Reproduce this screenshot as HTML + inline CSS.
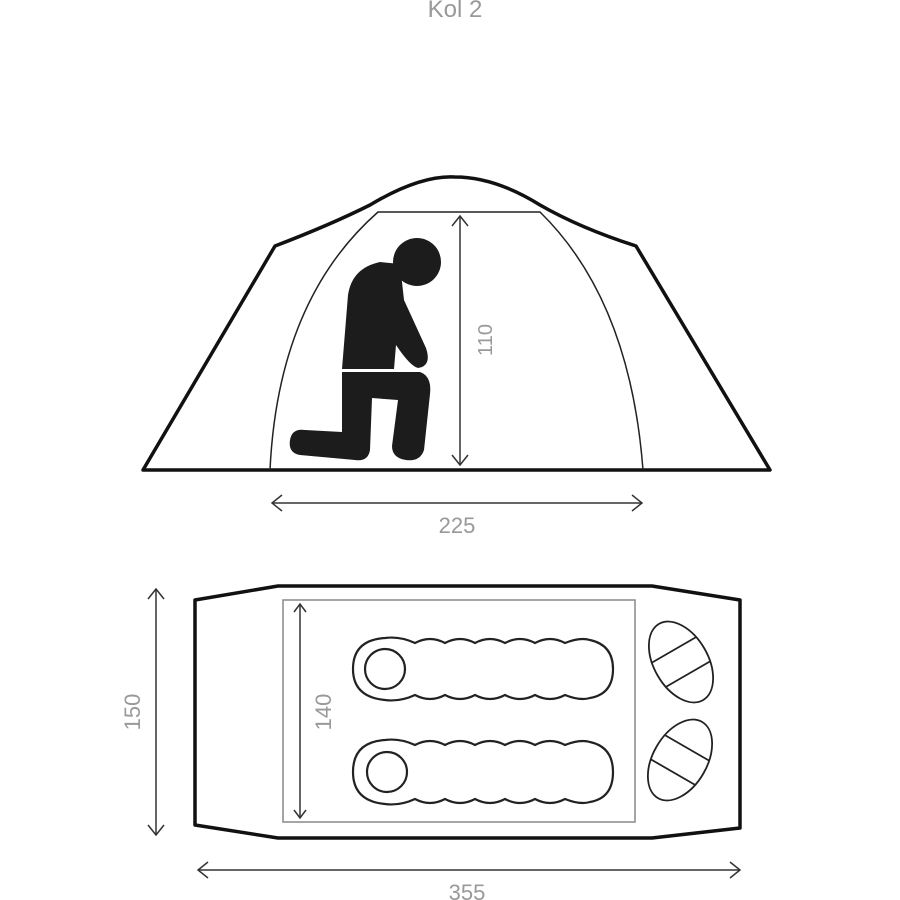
<!DOCTYPE html>
<html><head><meta charset="utf-8"><style>
html,body{margin:0;padding:0;background:#fff;}
svg{display:block;}
text{font-family:"Liberation Sans",sans-serif;fill:#999;}
</style></head><body>
<svg width="900" height="900" viewBox="0 0 900 900" xmlns="http://www.w3.org/2000/svg">
<text x="455" y="17" font-size="24" text-anchor="middle" fill="#aaa">Kol 2</text>
<path d="M143,470 L275,246 Q330,225 370,205 Q420,175 455,177 Q495,177 540,205 Q580,228 636,246 L770,470 Z" fill="none" stroke="#111" stroke-width="3.5" stroke-linejoin="round"/>
<line x1="143" y1="470" x2="770" y2="470" stroke="#111" stroke-width="3"/>
<path d="M270,470 Q278,300 378,212 L540,212 Q630,300 643,470" fill="none" stroke="#222" stroke-width="1.5"/>
<circle cx="417" cy="262" r="24" fill="#1c1c1c"/>
<path d="M342,369 L348,295 Q352,268 380,262 L400,264 L404,300 L426,348 Q432,366 418,368 Q410,366 396,345 L394,369 Z" fill="#1c1c1c"/>
<path d="M342,372 L420,372 Q432,376 430,394 L424,450 Q420,462 406,460 Q392,458 392,446 L398,400 L372,398 L370,450 Q368,462 355,460 L300,455 Q288,453 290,440 Q292,428 305,430 L342,432 Z" fill="#1c1c1c"/>
<g stroke="#333" stroke-width="1.5" fill="none">
<line x1="460" y1="216" x2="460" y2="465"/>
<polyline points="452,226 460,216 468,226"/>
<polyline points="452,455 460,465 468,455"/>
<line x1="272" y1="503" x2="642" y2="503"/>
<polyline points="282,495 272,503 282,511"/>
<polyline points="632,495 642,503 632,511"/>
</g>
<text font-size="20" text-anchor="middle" transform="translate(492,340) rotate(-90)">110</text>
<text x="457" y="533" font-size="22" text-anchor="middle">225</text>
<path d="M195,600 L278,586 L652,586 L740,600 L740,828 L652,838 L278,838 L195,825 Z" fill="none" stroke="#111" stroke-width="3.5" stroke-linejoin="round"/>
<rect x="283" y="600" width="352" height="222" fill="none" stroke="#888" stroke-width="1.5"/>
<g stroke="#333" stroke-width="1.5" fill="none">
<line x1="156" y1="589" x2="156" y2="835"/>
<polyline points="148,599 156,589 164,599"/>
<polyline points="148,825 156,835 164,825"/>
<line x1="300" y1="604" x2="300" y2="818"/>
<polyline points="294,612 300,604 306,612"/>
<polyline points="294,810 300,818 306,810"/>
<line x1="198" y1="870" x2="740" y2="870"/>
<polyline points="208,862 198,870 208,878"/>
<polyline points="730,862 740,870 730,878"/>
</g>
<text font-size="22" text-anchor="middle" transform="translate(140,712) rotate(-90)">150</text>
<text font-size="22" text-anchor="middle" transform="translate(331,712) rotate(-90)">140</text>
<text x="467" y="900" font-size="22" text-anchor="middle">355</text>
<g fill="none" stroke="#222" stroke-width="2.2">
<path d="M385,638 Q400,636 415,643 Q430,635 445,643 Q460,635 475,643 Q490,635 505,643 Q520,635 535,643 Q550,635 565,643 Q580,637 590,640 Q613,645 613,669 Q613,694 590,698 Q580,701 565,695 Q550,703 535,695 Q520,703 505,695 Q490,703 475,695 Q460,703 445,695 Q430,703 415,695 Q400,702 385,700 Q353,697 353,669 Q353,640 385,638 Z"/>
<circle cx="385" cy="669" r="20"/>
<path d="M385,740 Q400,738 415,745 Q430,737 445,745 Q460,737 475,745 Q490,737 505,745 Q520,737 535,745 Q550,737 565,745 Q580,739 590,742 Q613,747 613,772 Q613,798 590,802 Q580,805 565,799 Q550,807 535,799 Q520,807 505,799 Q490,807 475,799 Q460,807 445,799 Q430,807 415,799 Q400,806 385,804 Q353,801 353,772 Q353,742 385,740 Z"/>
<circle cx="387" cy="772" r="20"/>
</g>
<g fill="none" stroke="#222" stroke-width="1.8">
<g transform="translate(681,662) rotate(-30)">
<ellipse cx="0" cy="0" rx="27" ry="44"/>
<line x1="-26" y1="-14" x2="26" y2="-14"/>
<line x1="-26" y1="14" x2="26" y2="14"/>
</g>
<g transform="translate(680,760) rotate(30)">
<ellipse cx="0" cy="0" rx="27" ry="44"/>
<line x1="-26" y1="-14" x2="26" y2="-14"/>
<line x1="-26" y1="14" x2="26" y2="14"/>
</g>
</g>
</svg>
</body></html>
